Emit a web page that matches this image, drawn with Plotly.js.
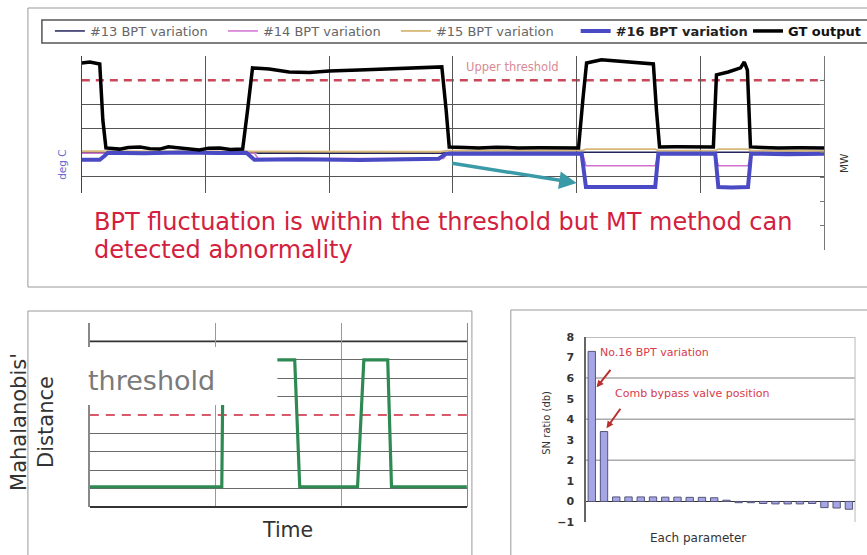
<!DOCTYPE html>
<html><head><meta charset="utf-8">
<script src="https://cdn.plot.ly/plotly-3.0.1.min.js"></script>
<style>html,body{margin:0;padding:0;background:#fff;}#chart{width:867px;height:555px;}</style>
</head><body><div id="chart"></div>
<script>
// ---------- Top panel: BPT variations (deg C) and GT output (MW) vs time ----------
const gtTime = [0,1.3,2.9,3.4,3.9,6.1,7.5,9.4,11,12.6,14,15.8,17.5,19.0,20.5,22.3,24,26.0,26.8,27.6,30.3,33.5,36.8,40.0,44.8,49.7,54.5,58.2,58.9,59.4,62,64.2,67,70.6,74,77.1,80.3,81.0,81.6,84.0,88.4,92.4,92.9,93.4,96,98.1,100,102.1,102.6,104.5,106.5,107.1,107.6,108.1,110,112.6,116,120];
const gtMW = [77.1,77.5,76.7,53.6,42.1,41.6,42.3,42.5,41.8,41.6,42.6,42.1,41.5,41.2,42.0,42.1,41.4,41.6,57.7,75.1,74.6,73.4,73.2,73.8,74.2,74.6,75.1,75.5,57.7,42.5,42.3,42.1,42.4,42.1,42.2,42.1,42.1,61.9,77.1,78.4,77.5,76.7,57.7,42.5,42.6,42.5,42.4,42.5,72.2,73.4,75.1,77.5,74.2,42.5,42.3,42.1,42.2,42.1];

const bpt16Time = [0,2.9,3.7,4.2,10,16,22,26.6,27.9,35,45,57.7,58.9,65,72,80.8,81.5,87,92.7,93.2,98,102.4,102.9,105,107.7,108.2,114,120];
const bpt16Val  = [7.1,7.1,8.75,10,9.8,10.1,9.9,10,7.1,7.3,7.0,7.5,9.6,9.5,9.7,9.6,-4.2,-4.0,-4.2,9.6,9.5,9.6,-4.2,-4.4,-4.2,9.6,9.4,9.6];

const bpt15Time = [0,27,28,58,59,81,81.5,92.7,93.2,102.4,102.9,107.7,108.2,120];
const bpt15Val  = [10.6,10.6,10.4,10.4,10.9,11.0,11.5,11.5,10.9,11.0,11.5,11.5,10.9,10.8];

const bpt14Time = [0,27.9,28.5,58.5,59,81,81.5,92.7,93.2,102.4,102.9,107.7,108.2,120];
const bpt14Val  = [9.8,9.8,7.6,7.6,9.4,9.4,4.6,4.6,9.4,9.4,4.6,4.6,9.4,9.4];

const bpt13Time = [0,27.9,28.5,58.9,59.4,120];
const bpt13Val  = [10.2,10.2,9.8,9.8,10.2,10.2];

const topGridVals = [0,10,20,30,50];
const upperThreshold = 40;

// ---------- Bottom left: Mahalanobis' distance vs time ----------
const mdTime  = [0,10.5,10.6,16.3,16.7,21.3,21.8,23.7,24.0,30];
const mdValue = [1.1,1.1,8,8,1.1,1.1,8,8,1.1,1.1];
const mdGridVals = [1,2,3,4,6,7,8,10];
const mdThreshold = 5;
const mdDarkGrid = 9;

// ---------- Bottom right: SN ratio per parameter ----------
const paramIndex = [1,2,3,4,5,6,7,8,9,10,11,12,13,14,15,16,17,18,19,20,21,22];
const snRatio = [7.3,3.4,0.22,0.22,0.22,0.22,0.21,0.21,0.2,0.2,0.18,0.06,-0.06,-0.06,-0.1,-0.12,-0.12,-0.12,-0.1,-0.3,-0.32,-0.38];
const snTicks = [-1,0,1,2,3,4,5,6,7,8];
const snGrid = [2,4,6,8];

const W = 867, H = 555;
const px = v => v / W;
const py = v => 1 - v / H;
const FONT = 'DejaVu Sans';

const traces = [
  {x: bpt13Time, y: bpt13Val, xaxis:'x', yaxis:'y', mode:'lines', name:'#13 BPT variation', legend:'legend', line:{color:'#23235a', width:1.5}},
  {x: bpt14Time, y: bpt14Val, xaxis:'x', yaxis:'y', mode:'lines', name:'#14 BPT variation', legend:'legend', line:{color:'#d070d0', width:1.5}},
  {x: bpt15Time, y: bpt15Val, xaxis:'x', yaxis:'y', mode:'lines', name:'#15 BPT variation', legend:'legend', line:{color:'#d8b878', width:1.8}},
  {x: bpt16Time, y: bpt16Val, xaxis:'x', yaxis:'y', mode:'lines', name:'<b>#16 BPT variation</b>', legend:'legend2', line:{color:'#4a4ac4', width:4}},
  {x: gtTime, y: gtMW, xaxis:'x', yaxis:'y2', mode:'lines', name:'<b>GT output</b>', legend:'legend3', line:{color:'#000', width:3.5}},
  {x: mdTime, y: mdValue, xaxis:'x2', yaxis:'y3', mode:'lines', showlegend:false, line:{color:'#2e8a52', width:3.2}},
  {x: paramIndex, y: snRatio, xaxis:'x3', yaxis:'y4', type:'bar', width:0.6, showlegend:false,
   marker:{color:'#a6a6e6', line:{color:'#55557a', width:1}}},
  {x: [], y: [], xaxis:'x4', yaxis:'y5', mode:'lines', showlegend:false}
];

const topXDomain = [px(82), px(826)];
const legBase = {orientation:'h', yanchor:'middle', xanchor:'left', y:py(31), bgcolor:'rgba(0,0,0,0)', borderwidth:0,
  itemwidth:30, tracegroupgap:0};

const layout = {
  width: W, height: H, autosize:false,
  margin:{l:0,r:0,t:0,b:0},
  paper_bgcolor:'#fff', plot_bgcolor:'rgba(0,0,0,0)',
  font:{family:FONT, color:'#333'},
  showlegend:true,
  legend: Object.assign({}, legBase, {x:px(50), entrywidth:128, entrywidthmode:'pixels', font:{family:FONT, size:13, color:'#666'}}),
  legend2: Object.assign({}, legBase, {x:px(577), font:{family:FONT, size:13, color:'#222'}}),
  legend3: Object.assign({}, legBase, {x:px(750), font:{family:FONT, size:13, color:'#111'}}),

  xaxis:{domain:topXDomain, anchor:'y', range:[0,120], dtick:20, tick0:0, showticklabels:false,
    showgrid:true, gridcolor:'#555', gridwidth:1, zeroline:false, showline:false, ticks:''},
  yaxis:{domain:[py(193), py(56)], anchor:'x', range:[-6.667,50], tickvals:topGridVals, showticklabels:false,
    showgrid:true, gridcolor:'#555', gridwidth:1, zeroline:false, showline:true, linecolor:'#444', linewidth:1.2, ticks:''},
  yaxis2:{overlaying:'y', anchor:'x', side:'right', range:[23.5,80], dtick:10, tick0:0, showticklabels:false,
    showgrid:false, zeroline:false, showline:true, linecolor:'#777', linewidth:1.2, ticks:'inside', ticklen:4, tickcolor:'#777'},
  xaxis4:{domain:topXDomain, anchor:'y5', visible:false, range:[0,120]},
  yaxis5:{domain:[py(250), py(193)], anchor:'x4', side:'right', range:[0,23.5], tickvals:[0,10,20], showticklabels:false,
    showgrid:false, zeroline:false, showline:true, linecolor:'#777', linewidth:1.2, ticks:'inside', ticklen:4, tickcolor:'#777'},

  xaxis2:{domain:[px(90), px(468)], anchor:'y3', range:[0,30], dtick:10, tick0:0, showticklabels:false,
    showgrid:true, gridcolor:'#999', gridwidth:1.2, zeroline:false, showline:false, ticks:''},
  yaxis3:{domain:[py(507), py(323)], anchor:'x2', range:[0,10], tickvals:mdGridVals, showticklabels:false,
    showgrid:true, gridcolor:'#6a6a6a', gridwidth:1.2, zeroline:true, zerolinecolor:'#333', zerolinewidth:2,
    showline:true, mirror:true, linecolor:'#888', linewidth:1.5, ticks:''},

  xaxis3:{domain:[px(587), px(857)], anchor:'y4', range:[0.5,22.5], showticklabels:false, showgrid:false,
    zeroline:false, showline:false, ticks:''},
  yaxis4:{domain:[py(522), py(337)], anchor:'x3', range:[-1,8], tickvals:snTicks, showgrid:false,
    zeroline:true, zerolinecolor:'#333', zerolinewidth:1.5, showline:true, linecolor:'#666', linewidth:1.2,
    ticks:'', ticklabelstandoff:8, tickfont:{family:FONT, size:11, color:'#333', weight:'bold'}},

  shapes:[
    {type:'rect', xref:'paper', yref:'paper', x0:px(28), x1:1.05, y0:py(287), y1:py(8), line:{color:'#999', width:1}, fillcolor:'rgba(0,0,0,0)'},
    {type:'rect', xref:'paper', yref:'paper', x0:px(42), x1:1.05, y0:py(43), y1:py(20), line:{color:'#555', width:1.5}, fillcolor:'rgba(0,0,0,0)'},
    {type:'rect', xref:'paper', yref:'paper', x0:px(28), x1:px(473), y0:py(575), y1:py(311), line:{color:'#999', width:1}, fillcolor:'rgba(0,0,0,0)'},
    {type:'rect', xref:'paper', yref:'paper', x0:px(512), x1:1.05, y0:py(575), y1:py(310), line:{color:'#999', width:1}, fillcolor:'rgba(0,0,0,0)'},
    {type:'line', xref:'x domain', x0:0, x1:1, yref:'y', y0:upperThreshold, y1:upperThreshold, layer:'below',
      line:{color:'#c8485a', width:2.5, dash:'8px,6px'}},
    {type:'line', xref:'x2 domain', x0:0, x1:1, yref:'y3', y0:mdDarkGrid, y1:mdDarkGrid, layer:'below',
      line:{color:'#333', width:1.6}},
    {type:'line', xref:'x2 domain', x0:0, x1:1, yref:'y3', y0:mdThreshold, y1:mdThreshold, layer:'below',
      line:{color:'#d65a6a', width:1.8, dash:'9px,7px'}},
    {type:'rect', xref:'paper', yref:'paper', x0:px(86), x1:px(278), y0:py(405), y1:py(347), layer:'above',
      line:{width:0}, fillcolor:'#fff'},
    ...snGrid.map(g => ({type:'line', xref:'x3 domain', x0:0, x1:1, yref:'y4', y0:g, y1:g, layer:'below',
      line:{color:'#aaa', width:1.5}})),
    {type:'line', xref:'x3 domain', x0:1, x1:1, yref:'y4', y0:-1.2, y1:8, layer:'below', line:{color:'#c4c4c4', width:1.2}}
  ],

  annotations:[
    {xref:'paper', yref:'paper', x:px(514), y:py(67), text:'Upper threshold', showarrow:false, xanchor:'center', yanchor:'middle',
      font:{family:FONT, size:11.5, color:'#d98a94'}},
    {xref:'paper', yref:'paper', x:px(62), y:py(165), text:'deg C', textangle:-90, showarrow:false, xanchor:'center', yanchor:'middle',
      font:{family:FONT, size:10.5, color:'#6b6bd0'}},
    {xref:'paper', yref:'paper', x:px(846), y:py(163), text:'MW', textangle:-90, showarrow:false, xanchor:'center', yanchor:'middle',
      font:{family:FONT, size:10.5, color:'#333'}},
    {xref:'paper', yref:'paper', x:px(578), y:py(183), ax:-126, ay:-20, text:'', showarrow:true,
      arrowcolor:'#3b9aa8', arrowwidth:3.5, arrowhead:2, arrowsize:1},
    {xref:'paper', yref:'paper', x:px(92), y:py(222), xanchor:'left', yanchor:'middle', text:'BPT fluctuation is within the threshold but MT method can',
      showarrow:false, font:{family:FONT, size:24, color:'#d3203e'}},
    {xref:'paper', yref:'paper', x:px(92), y:py(250), xanchor:'left', yanchor:'middle', text:'detected abnormality',
      showarrow:false, font:{family:FONT, size:24, color:'#d3203e'}},

    {xref:'paper', yref:'paper', x:px(86), y:py(380), xanchor:'left', yanchor:'middle', text:'threshold', showarrow:false,
      font:{family:FONT, size:27, color:'#7a7a7a'}},
    {xref:'paper', yref:'paper', x:px(288), y:py(530), xanchor:'center', yanchor:'middle', text:'Time', showarrow:false,
      font:{family:FONT, size:20.5, color:'#333'}},
    {xref:'paper', yref:'paper', x:px(32), y:py(422), xanchor:'center', yanchor:'middle', text:"Mahalanobis'<br>Distance", textangle:-90, showarrow:false,
      font:{family:FONT, size:21, color:'#333'}},

    {xref:'paper', yref:'paper', x:px(599), y:py(352), xanchor:'left', yanchor:'middle', text:'No.16 BPT variation', showarrow:false,
      font:{family:FONT, size:11, color:'#d83a4a'}},
    {xref:'paper', yref:'paper', x:px(614), y:py(393), xanchor:'left', yanchor:'middle', text:'Comb bypass valve position', showarrow:false,
      font:{family:FONT, size:11, color:'#d83a4a'}},
    {xref:'x3', yref:'y4', x:1.4, y:5.55, ax:15, ay:-19, text:'', showarrow:true,
      arrowcolor:'#b83030', arrowwidth:2, arrowhead:2, arrowsize:0.7},
    {xref:'x3', yref:'y4', x:2.2, y:3.56, ax:15, ay:-21, text:'', showarrow:true,
      arrowcolor:'#b83030', arrowwidth:2, arrowhead:2, arrowsize:0.7},
    {xref:'paper', yref:'paper', x:px(547), y:py(423), xanchor:'center', yanchor:'middle', text:'SN ratio (db)', textangle:-90, showarrow:false,
      font:{family:FONT, size:10, color:'#333'}},
    {xref:'paper', yref:'paper', x:px(700), y:py(538), xanchor:'center', yanchor:'middle', text:'Each parameter', showarrow:false,
      font:{family:FONT, size:12, color:'#333'}}
  ]
};

Plotly.newPlot('chart', traces, layout, {displayModeBar:false, staticPlot:true});
</script>
</body></html>
